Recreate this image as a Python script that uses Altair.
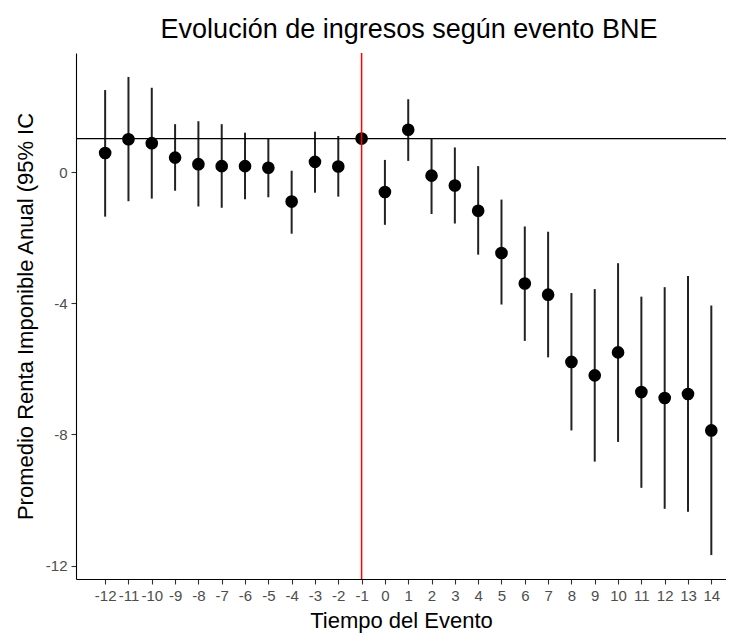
import altair as alt
import pandas as pd

# Event time (x) and estimates with 95% CI
tiempo = [-12, -11, -10, -9, -8, -7, -6, -5, -4, -3, -2, -1, 0,
          1, 2, 3, 4, 5, 6, 7, 8, 9, 10, 11, 12, 13, 14]
estimado = [0.58, 1.00, 0.88, 0.44, 0.24, 0.18, 0.18, 0.13, -0.90, 0.31, 0.17, 1.02, -0.61,
            1.29, -0.11, -0.41, -1.18, -2.47, -3.40, -3.74, -5.79, -6.20, -5.50, -6.71, -6.89, -6.77, -7.88]
ic_sup = [2.50, 2.90, 2.57, 1.46, 1.55, 1.46, 1.20, 1.03, 0.04, 1.23, 1.10, 1.02, 0.37,
          2.22, 1.02, 0.75, 0.18, -0.84, -1.66, -1.82, -3.69, -3.57, -2.78, -3.80, -3.51, -3.17, -4.07]
ic_inf = [-1.36, -0.89, -0.81, -0.57, -1.05, -1.09, -0.83, -0.77, -1.88, -0.63, -0.75, 1.02, -1.61,
          0.34, -1.28, -1.57, -2.52, -4.04, -5.15, -5.65, -7.88, -8.83, -8.23, -9.63, -10.27, -10.36, -11.68]

x_ticks = list(range(-12, 15))
y_ticks = [0, -4, -8, -12]
linea_ref_y = 1.02
evento_x = -1

df = pd.DataFrame({"t": tiempo, "est": estimado, "lo": ic_inf, "hi": ic_sup})

FONT = "Liberation Sans"

x_scale = alt.Scale(domain=[-13.25, 14.63], nice=False, zero=False)
y_scale = alt.Scale(domain=[-12.41, 3.63], nice=False, zero=False)

x_axis = alt.Axis(values=x_ticks, title="Tiempo del Evento", grid=False,
                  labelOverlap=False, labelFlush=False,
                  labelExpr="'' + datum.value")
y_axis = alt.Axis(values=y_ticks, title="Promedio Renta Imponible Anual (95% IC",
                  grid=False, labelOverlap=False, labelExpr="'' + datum.value")

base = alt.Chart(df)

barras = base.mark_rule(color="#222222", strokeWidth=2).encode(
    x=alt.X("t:Q", scale=x_scale, axis=x_axis),
    y=alt.Y("lo:Q", scale=y_scale, axis=y_axis),
    y2="hi:Q",
)

puntos = base.mark_circle(color="black", opacity=1, size=160).encode(
    x=alt.X("t:Q", scale=x_scale, axis=x_axis),
    y=alt.Y("est:Q", scale=y_scale, axis=y_axis),
)

hline = alt.Chart(pd.DataFrame({"y": [linea_ref_y]})).mark_rule(
    color="black", strokeWidth=1.3).encode(y=alt.Y("y:Q", scale=y_scale, axis=y_axis))

vline = alt.Chart(pd.DataFrame({"x": [evento_x]})).mark_rule(
    color="#FF0000", strokeWidth=1.5).encode(x=alt.X("x:Q", scale=x_scale, axis=x_axis))

chart = alt.layer(barras, puntos, hline, vline).properties(
    width=650,
    height=526,
    autosize=alt.AutoSizeParams(type="none"),
    padding={"left": 68, "top": 45, "right": 0, "bottom": 56},
    title=alt.TitleParams("Evolución de ingresos según evento BNE",
                          font=FONT, fontSize=27, fontWeight="normal",
                          color="black", anchor="middle", dx=8,
                          baseline="alphabetic", offset=16, dy=29),
).configure(
    background="white",
    view=alt.ViewConfig(strokeWidth=0, stroke="transparent"),
).configure_axis(
    domainColor="black", domainWidth=1.1,
    tickColor="#333333", tickSize=5, tickWidth=1.1,
    labelColor="#4D4D4D", labelFontSize=15, labelFont=FONT, labelPadding=4,
    titleFont=FONT, titleFontSize=22, titleFontWeight="normal", titleColor="black",
).configure_axisX(
    labelOverlap=False, labelFlush=False, titlePadding=7,
).configure_axisY(
    titlePadding=8,
)

chart.save("out.html", embed_options={"renderer": "svg", "actions": False})
